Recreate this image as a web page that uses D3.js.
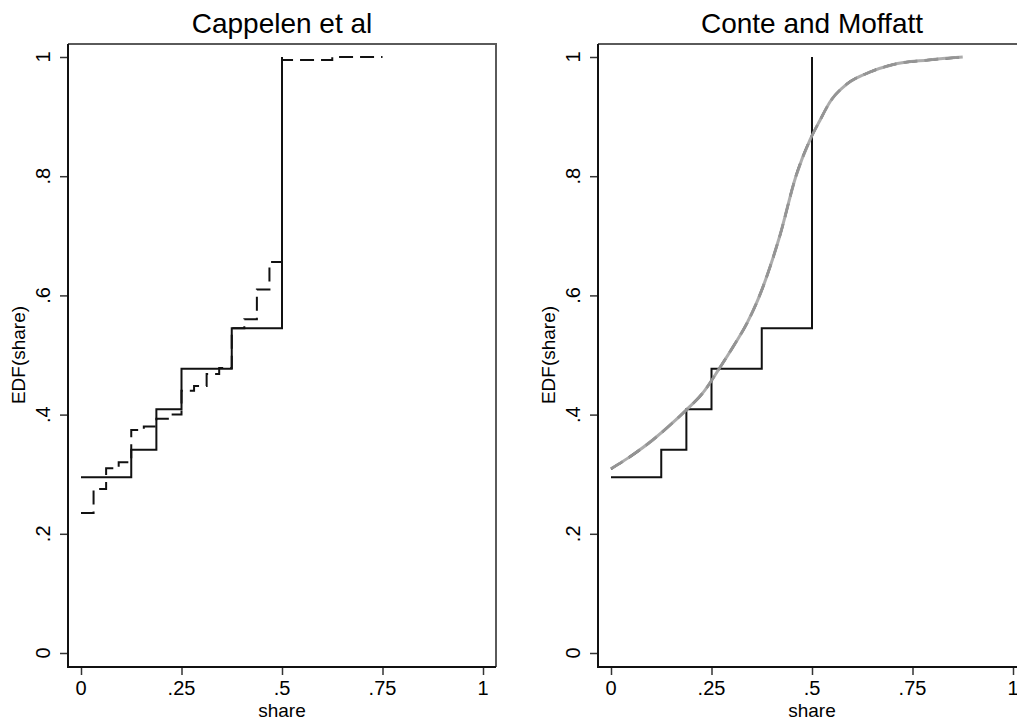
<!DOCTYPE html>
<html>
<head>
<meta charset="utf-8">
<script src="https://cdn.jsdelivr.net/npm/d3@7"></script>
<style>
  body { margin: 0; background: #fff; }
  svg { font-family: "Liberation Sans", Arial, sans-serif; }
</style>
</head>
<body>
<svg id="chart"></svg>
<script>
// observed EDF of share (same in both panels), step at each x
const obsX = [0, 0.125, 0.1875, 0.25, 0.375, 0.5]
const obsY = [0.295, 0.341, 0.409, 0.477, 0.545, 1.0]

// Cappelen et al predicted EDF (dashed steps)
const capX = [0, 0.03125, 0.0625, 0.09375, 0.125, 0.15625, 0.1875, 0.21875, 0.25, 0.28125, 0.3125, 0.34375, 0.375, 0.40625, 0.4375, 0.46875, 0.5, 0.625, 0.75]
const capY = [0.235, 0.275, 0.31, 0.32, 0.374, 0.38, 0.393, 0.40, 0.44, 0.448, 0.468, 0.478, 0.545, 0.56, 0.61, 0.656, 0.995, 1.0, 1.0]

// Conte and Moffatt predicted EDF (smooth)
const cmX = [0, 0.053, 0.103, 0.153, 0.1875, 0.228, 0.27, 0.303, 0.338, 0.365, 0.42, 0.46, 0.495, 0.52, 0.545, 0.5875, 0.645, 0.70, 0.79, 0.875]
const cmY = [0.309, 0.332, 0.357, 0.386, 0.408, 0.436, 0.478, 0.513, 0.553, 0.592, 0.70, 0.80, 0.861, 0.894, 0.925, 0.955, 0.975, 0.987, 0.995, 1.0]

const xTicks = [0, 0.25, 0.5, 0.75, 1]
const yTicks = [0, 0.2, 0.4, 0.6, 0.8, 1]
const fmt = d => d === 0 ? "0" : d === 1 ? "1" : String(d).replace(/^0/, "")

const width = 1017, height = 722
const svg = d3.select("#chart").attr("width", width).attr("height", height)

function panel(left, title, drawSeries) {
    const box = { left: left, top: 44, right: left + 428, bottom: 667 }
    const x = d3.scaleLinear().domain([0, 1]).range([left + 13, left + 415])
    const y = d3.scaleLinear().domain([0, 1]).range([653, 57])
    const g = svg.append("g")

    // plot region outline (top/right gray)
    g.append("path")
        .attr("d", `M${box.left},${box.top}H${box.right}V${box.bottom}`)
        .attr("fill", "none").attr("stroke", "#5a5a5a").attr("stroke-width", 2)

    drawSeries(g, x, y)

    // axes
    const yAxis = g.append("g").attr("transform", `translate(${box.left},0)`)
        .call(d3.axisLeft(y).tickValues(yTicks).tickSize(8).tickFormat(""))
    const xAxis = g.append("g").attr("transform", `translate(0,${box.bottom})`)
        .call(d3.axisBottom(x).tickValues(xTicks).tickSize(8).tickFormat(""))
    for (const a of [yAxis, xAxis]) {
        a.select(".domain").remove()
        a.selectAll("line").attr("stroke", "#333").attr("stroke-width", 1.5)
    }
    g.append("path")
        .attr("d", `M${box.left},${box.top}V${box.bottom}H${box.right}`)
        .attr("fill", "none").attr("stroke", "#111").attr("stroke-width", 2)

    // tick labels
    g.selectAll(".ylab").data(yTicks).enter().append("text")
        .attr("transform", d => `translate(${box.left - 18},${y(d)}) rotate(-90)`)
        .attr("text-anchor", "middle").attr("font-size", 20)
        .text(fmt)
    g.selectAll(".xlab").data(xTicks).enter().append("text")
        .attr("x", d => x(d)).attr("y", 695)
        .attr("text-anchor", "middle").attr("font-size", 20)
        .text(fmt)

    g.append("text").attr("x", x(0.5)).attr("y", 717)
        .attr("text-anchor", "middle").attr("font-size", 19).text("share")
    g.append("text")
        .attr("transform", `translate(${box.left - 43},${y(0.5)}) rotate(-90)`)
        .attr("text-anchor", "middle").attr("font-size", 19).text("EDF(share)")
    g.append("text").attr("x", (box.left + box.right) / 2).attr("y", 33)
        .attr("text-anchor", "middle").attr("font-size", 28).text(title)
}

function stepLine(x, y) {
    return d3.line().x(d => x(d[0])).y(d => y(d[1])).curve(d3.curveStepAfter)
}

function drawObserved(g, x, y) {
    const pts = obsX.map((v, i) => [v, obsY[i]])
    g.append("path").datum(pts)
        .attr("d", stepLine(x, y))
        .attr("fill", "none").attr("stroke", "#111").attr("stroke-width", 2)
}

panel(68, "Cappelen et al", (g, x, y) => {
    drawObserved(g, x, y)
    const pts = capX.map((v, i) => [v, capY[i]])
    g.append("path").datum(pts)
        .attr("d", stepLine(x, y))
        .attr("fill", "none").attr("stroke", "#111").attr("stroke-width", 2)
        .attr("stroke-dasharray", "14,7")
})

panel(598, "Conte and Moffatt", (g, x, y) => {
    drawObserved(g, x, y)
    const pts = cmX.map((v, i) => [v, cmY[i]])
    const line = d3.line().x(d => x(d[0])).y(d => y(d[1])).curve(d3.curveMonotoneX)
    g.append("path").datum(pts).attr("d", line)
        .attr("fill", "none").attr("stroke", "#111").attr("stroke-width", 2.5)
        .attr("stroke-dasharray", "14,7")
    g.append("path").datum(pts).attr("d", line)
        .attr("fill", "none").attr("stroke", "#a3a3a3").attr("stroke-width", 3)
        .attr("stroke-opacity", 0.9)
})
</script>
</body>
</html>
